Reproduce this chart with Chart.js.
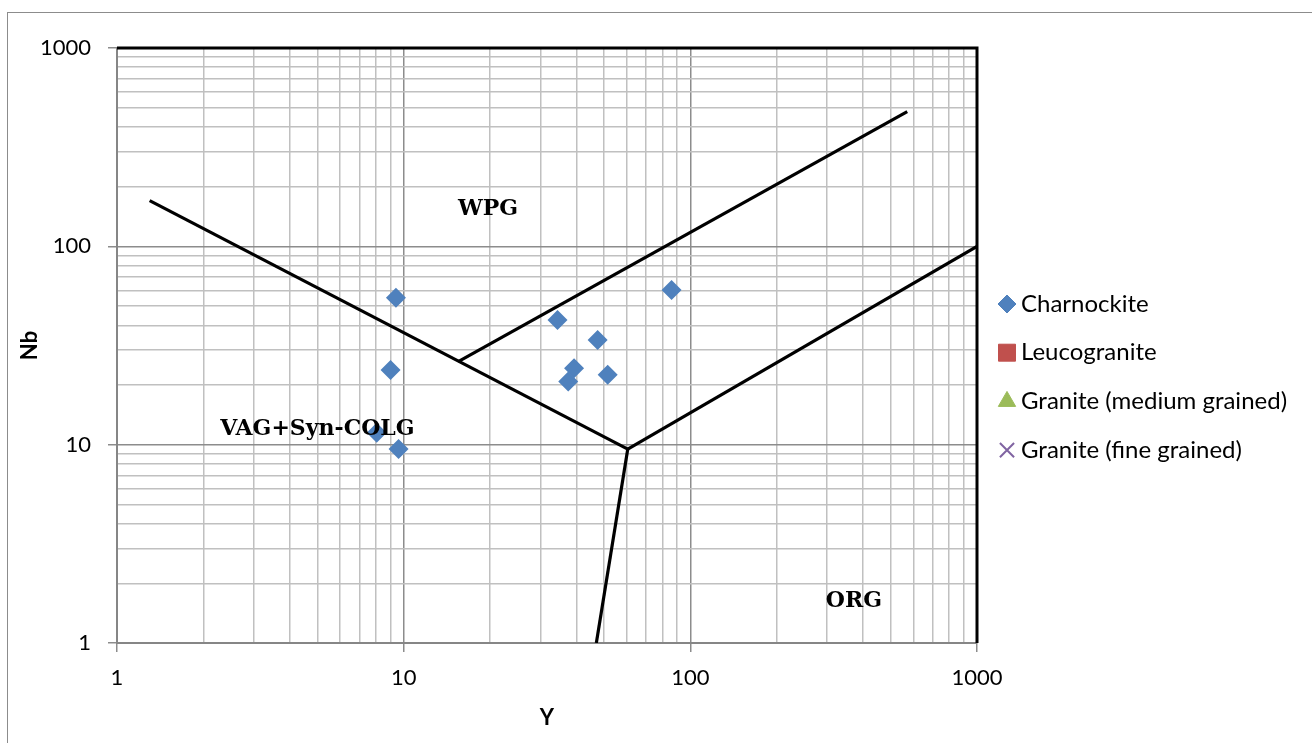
<!DOCTYPE html>
<html>
<head>
<meta charset="utf-8">
<script src="https://cdn.jsdelivr.net/npm/chart.js@4.4.1/dist/chart.umd.min.js"></script>
<style>
  html, body { margin: 0; padding: 0; background: #fff; }
</style>
</head>
<body>
<canvas id="c" width="1312" height="743"></canvas>
<script>
// axis labels (log decades) and minor gridline multipliers
const axisLabels = [1, 10, 100, 1000];
const minorSteps = [2, 3, 4, 5, 6, 7, 8, 9];

// samples: Y (ppm) vs Nb (ppm)
const charnockiteY  = [9.4, 9.0, 8.05, 9.6, 34.4, 47.5, 39.3, 37.5, 51.5, 86];
const charnockiteNb = [55, 23.8, 11.5, 9.5, 42.5, 33.7, 24.3, 20.8, 22.5, 60.3];
const leucograniteY = [], leucograniteNb = [];
const graniteMedY = [], graniteMedNb = [];
const graniteFineY = [], graniteFineNb = [];

// field boundaries (Pearce et al.)
const vagWpgY = [1.3, 60.5],  vagWpgNb = [170, 9.5];
const wpgOrgY = [60.5, 1000], wpgOrgNb = [9.5, 100];
const vagOrgY = [47, 60.5],   vagOrgNb = [1, 9.5];
const wpgUpY  = [15.5, 571],  wpgUpNb  = [26.2, 478];

// field names
const fieldNames = ['WPG', 'VAG+Syn-COLG', 'ORG'];
const fieldY  = [19.7, 5.0, 372];
const fieldNb = [153, 11.9, 1.62];

const toPoints = (xs, ys) => xs.map((x, i) => ({x: x, y: ys[i]}));

let gridValues = [];
axisLabels.forEach((v, i) => {
  gridValues.push(v);
  if (i < axisLabels.length - 1) minorSteps.forEach(m => gridValues.push(v * m));
});
const isMajor = c => c.tick && axisLabels.includes(c.tick.value);

function logAxis(title, isX) {
  return {
    type: 'logarithmic',
    min: 1, max: 1000,
    afterBuildTicks: s => { s.ticks = gridValues.map(v => ({value: v})); },
    afterFit: s => { if (isX) s.height = 100; else s.width = 117; },
    ticks: {
      autoSkip: false, maxRotation: 0, minRotation: 0,
      font: {family: 'Lato', size: 22}, color: '#000',
      padding: isX ? 13 : 17,
      callback: v => axisLabels.includes(v) ? String(v) : ''
    },
    grid: {
      color: c => isMajor(c) ? '#8c8c8c' : '#c0c0c0',
      lineWidth: 1.5,
      tickLength: 9,
      tickColor: c => isMajor(c) ? '#8c8c8c' : 'rgba(0,0,0,0)'
    },
    border: {color: '#868686', width: 2},
    title: {
      display: true, text: title, color: '#000',
      font: {family: 'Lato', size: 22, weight: 'bold'},
      padding: isX ? {top: 0, bottom: 12} : {top: 17, bottom: 0}
    }
  };
}

function boundary(xs, ys) {
  return {data: toPoints(xs, ys), showLine: true, borderColor: '#000', borderWidth: 3.2,
          pointRadius: 0, pointHoverRadius: 0, fill: false};
}

const framePlugin = {
  id: 'frame',
  beforeDraw(chart) {
    const ctx = chart.ctx;
    ctx.save();
    ctx.strokeStyle = '#8c8c8c';
    ctx.lineWidth = 1;
    ctx.strokeRect(7.5, 12.5, 1400, 800);
    ctx.restore();
  },
  afterDatasetsDraw(chart) {
    const ctx = chart.ctx, a = chart.chartArea;
    const xs = chart.scales.x, ys = chart.scales.y;
    ctx.save();
    ctx.strokeStyle = '#000';
    ctx.lineWidth = 3;
    ctx.beginPath();
    ctx.moveTo(a.left, a.top);
    ctx.lineTo(a.right, a.top);
    ctx.lineTo(a.right, a.bottom);
    ctx.stroke();
    ctx.font = 'bold 22px "DejaVu Serif"';
    ctx.fillStyle = '#000';
    ctx.textAlign = 'center';
    ctx.textBaseline = 'middle';
    fieldNames.forEach((n, i) => {
      ctx.fillText(n, xs.getPixelForValue(fieldY[i]), ys.getPixelForValue(fieldNb[i]));
    });
    ctx.restore();
  }
};

const legendPlugin = {
  id: 'sideLegend',
  afterDraw(chart) {
    const ctx = chart.ctx;
    const items = chart.data.datasets.filter(d => d.label);
    ctx.save();
    ctx.font = '24px Lato';
    ctx.textBaseline = 'middle';
    ctx.textAlign = 'left';
    items.forEach((d, i) => {
      const y = 304 + i * 48.7;
      ctx.fillStyle = d.backgroundColor;
      ctx.strokeStyle = d.borderColor;
      ctx.lineWidth = d.pointStyle === 'crossRot' ? 2 : 1;
      Chart.helpers.drawPoint(ctx, {pointStyle: d.pointStyle, radius: d.legendRadius, rotation: 0, borderWidth: ctx.lineWidth}, 1007, y);
      ctx.fillStyle = '#000';
      ctx.fillText(d.label, 1021, y);
    });
    ctx.restore();
  }
};

new Chart(document.getElementById('c'), {
  type: 'scatter',
  data: {
    datasets: [
      boundary(vagWpgY, vagWpgNb),
      boundary(wpgOrgY, wpgOrgNb),
      boundary(vagOrgY, vagOrgNb),
      boundary(wpgUpY, wpgUpNb),
      {label: 'Charnockite', data: toPoints(charnockiteY, charnockiteNb), pointStyle: 'rectRot',
       backgroundColor: '#4f81bd', borderColor: '#4f81bd', pointRadius: 10, borderWidth: 0, legendRadius: 9},
      {label: 'Leucogranite', data: toPoints(leucograniteY, leucograniteNb), pointStyle: 'rect',
       backgroundColor: '#c0504d', borderColor: '#c0504d', pointRadius: 9, legendRadius: 12},
      {label: 'Granite (medium grained)', data: toPoints(graniteMedY, graniteMedNb), pointStyle: 'triangle',
       backgroundColor: '#9bbb59', borderColor: '#9bbb59', pointRadius: 9, legendRadius: 10},
      {label: 'Granite (fine grained)', data: toPoints(graniteFineY, graniteFineNb), pointStyle: 'crossRot',
       backgroundColor: '#8064a2', borderColor: '#8064a2', pointRadius: 9, borderWidth: 2, legendRadius: 10}
    ]
  },
  options: {
    responsive: false,
    animation: false,
    devicePixelRatio: 1,
    layout: {padding: {top: 48, right: 335, left: 0, bottom: 0}},
    plugins: {legend: {display: false}, tooltip: {enabled: false}},
    scales: {
      x: logAxis('Y', true),
      y: logAxis('Nb', false)
    }
  },
  plugins: [framePlugin, legendPlugin]
});
</script>
</body>
</html>
